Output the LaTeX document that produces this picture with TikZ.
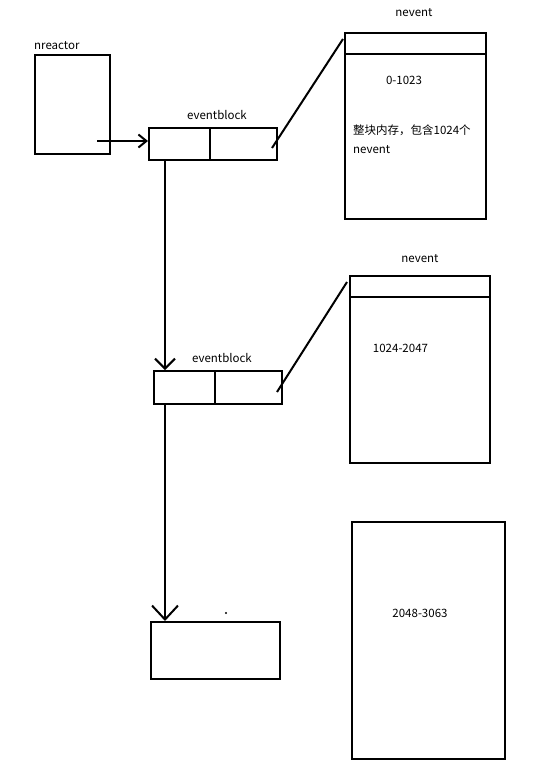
\documentclass[tikz,border=0pt]{standalone}
\usepackage{fontspec}
\setmainfont{Noto Sans CJK SC}
\usetikzlibrary{arrows.meta, positioning, calc}
\tikzset{
  box/.style={draw, line width=2pt, inner sep=0pt, rectangle},
  link/.style={line width=2pt},
  lbl/.style={font=\fontsize{11.5}{14}\selectfont, inner sep=0pt},
  small barb/.style={-{Straight Barb[length=8pt, width=13pt, line width=2pt]}},
  mid barb/.style={-{Straight Barb[length=10pt, width=20pt, line width=2pt]}},
  big barb/.style={-{Straight Barb[length=14pt, width=26pt, line width=2pt]}},
}

\begin{document}
\begin{tikzpicture}[x=1pt, y=-1pt]
  \useasboundingbox (0,0) rectangle (543,782);
  % reactor
  \node[box, minimum width=75pt, minimum height=99pt] (nreactor) at (72.5,104.5) {};
  \node[lbl, anchor=west] (nreactorlbl) at (34,46) {nreactor};
  % event blocks
  \node[box, minimum width=128pt, minimum height=32pt] (eb1) at (213,144) {};
  \node[lbl] (eb1lbl) at (217,115) {eventblock};
  \draw[link] ($(eb1.north west)+(62,0)$) -- ($(eb1.south west)+(62,0)$);
  \node[box, minimum width=128pt, minimum height=33pt] (eb2) at (218,387.5) {};
  \node[lbl] (eb2lbl) at (222,358) {eventblock};
  \draw[link] ($(eb2.north west)+(62,0)$) -- ($(eb2.south west)+(62,0)$);
  \node[box, minimum width=129pt, minimum height=57pt] (eb3) at (215.5,650.5) {};
  \fill (226,613) circle (1.2pt);
  % nevent memory
  \node[box, minimum width=141pt, minimum height=186pt] (nev1) at (415.5,126) {};
  \node[lbl] (nev1lbl) at (414,13) {nevent};
  \draw[link] ($(nev1.north west)+(0,22)$) -- ($(nev1.north east)+(0,22)$);
  \node[lbl] (range1) at (404,80) {0-1023};
  \node[lbl, anchor=west] (note1) at (353,130) {整块内存，包含1024个};
  \node[lbl, anchor=west] (note2) at (353,150) {nevent};
  \node[box, minimum width=140pt, minimum height=187pt] (nev2) at (420,369.5) {};
  \node[lbl] (nev2lbl) at (420,259) {nevent};
  \draw[link] ($(nev2.north west)+(0,22)$) -- ($(nev2.north east)+(0,22)$);
  \node[lbl] (range2) at (400.5,348) {1024-2047};
  \node[box, minimum width=153pt, minimum height=237pt] (nev3) at (428.5,640.5) {};
  \node[lbl] (range3) at (420,613) {2048-3063};
  % links
  \coordinate (r1) at (97,141);
  \coordinate (chain) at (165,0);
  \draw[link, small barb] (r1) -- (eb1.west |- r1);
  \draw[link, mid barb] (eb1.south -| chain) -- (eb2.north -| chain);
  \draw[link, big barb] (eb2.south -| chain) -- (eb3.north -| chain);
  \draw[link] ($(eb1.east)+(-6,4)$) -- ($(nev1.north west)+(-1,7)$);
  \draw[link] ($(eb2.east)+(-6,4.5)$) -- ($(nev2.north west)+(-2,7)$);
\end{tikzpicture}
\end{document}
